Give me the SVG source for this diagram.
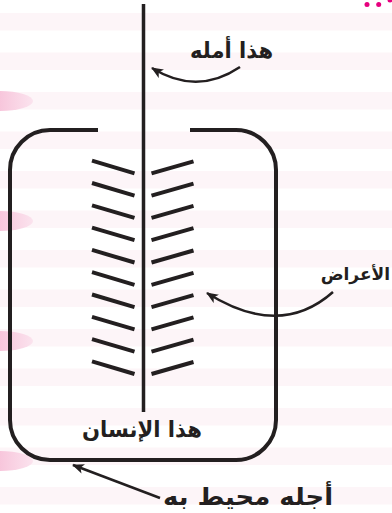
<svg xmlns="http://www.w3.org/2000/svg" width="392" height="513" viewBox="0 0 392 513">
<defs>
<style>
.stripe{fill:#fdf5f8}
.blob{fill:url(#pg)}
.dot{fill:#e6007e}
.frame{fill:none;stroke:#231f20;stroke-width:4}
.axis{fill:none;stroke:#231f20;stroke-width:3.5}
.hatch{stroke:#231f20;stroke-width:4;stroke-linecap:butt}
.conn{fill:none;stroke:#231f20;stroke-width:2.5}
.lbl{font-family:"DejaVu Sans","Noto Sans",sans-serif;font-weight:bold;fill:#231f20;text-anchor:middle}
</style>
<linearGradient id="pg" x1="0" y1="0" x2="1" y2="0">
<stop offset="0" stop-color="#f4a9c9"/>
<stop offset="1" stop-color="#fbe3ee"/>
</linearGradient>
<marker id="ah" viewBox="0 0 12 10" refX="11" refY="5" markerWidth="12" markerHeight="10" markerUnits="userSpaceOnUse" orient="auto">
<path d="M0,0 L12,5 L0,10 L3,5 Z" fill="#231f20"/>
</marker>
</defs>
<g id="background">
<rect x="0" y="0" width="392" height="513" fill="#ffffff"/>
<rect class="stripe" x="0" y="13" width="392" height="17.5"/>
<rect class="stripe" x="0" y="52.5" width="392" height="17.5"/>
<rect class="stripe" x="0" y="92" width="392" height="17.5"/>
<rect class="stripe" x="0" y="131.5" width="392" height="17.5"/>
<rect class="stripe" x="0" y="171" width="392" height="17.5"/>
<rect class="stripe" x="0" y="210.5" width="392" height="17.5"/>
<rect class="stripe" x="0" y="250" width="392" height="17.5"/>
<rect class="stripe" x="0" y="289.5" width="392" height="17.5"/>
<rect class="stripe" x="0" y="329" width="392" height="17.5"/>
<rect class="stripe" x="0" y="368.5" width="392" height="17.5"/>
<rect class="stripe" x="0" y="408" width="392" height="17.5"/>
<rect class="stripe" x="0" y="447.5" width="392" height="17.5"/>
<rect class="stripe" x="0" y="487" width="392" height="17.5"/>
<ellipse class="blob" cx="0" cy="101" rx="33" ry="10"/>
<ellipse class="blob" cx="0" cy="221" rx="33" ry="10"/>
<ellipse class="blob" cx="0" cy="341" rx="33" ry="10"/>
<ellipse class="blob" cx="0" cy="461" rx="33" ry="10"/>
<circle class="dot" cx="367" cy="4.5" r="2.5"/>
<circle class="dot" cx="378.7" cy="4.5" r="2.5"/>
<circle class="dot" cx="390" cy="0" r="2.5"/>
</g>
<g id="vessel">
<path class="frame" d="M98,130 H50 A40,40 0 0 0 10,170 V420 A40,40 0 0 0 50,460 H236 A40,40 0 0 0 276,420 V170 A40,40 0 0 0 236,130 H190"/>
</g>
<g id="axis">
<line class="axis" x1="143.5" y1="4" x2="143.5" y2="412"/>
</g>
<g id="hatches">
<g id="left-hatches">
<line class="hatch" x1="92" y1="160.7" x2="134.5" y2="173.3"/>
<line class="hatch" x1="92" y1="183" x2="134.5" y2="195.6"/>
<line class="hatch" x1="92" y1="205.3" x2="134.5" y2="217.9"/>
<line class="hatch" x1="92" y1="227.6" x2="134.5" y2="240.2"/>
<line class="hatch" x1="92" y1="249.9" x2="134.5" y2="262.5"/>
<line class="hatch" x1="92" y1="272.2" x2="134.5" y2="284.8"/>
<line class="hatch" x1="92" y1="294.5" x2="134.5" y2="307.1"/>
<line class="hatch" x1="92" y1="316.8" x2="134.5" y2="329.4"/>
<line class="hatch" x1="92" y1="339.1" x2="134.5" y2="351.7"/>
<line class="hatch" x1="92" y1="361.4" x2="134.5" y2="374"/>
</g>
<g id="right-hatches">
<line class="hatch" x1="151.5" y1="173.3" x2="193.5" y2="161.3"/>
<line class="hatch" x1="151.5" y1="195.6" x2="193.5" y2="183.6"/>
<line class="hatch" x1="151.5" y1="217.9" x2="193.5" y2="205.9"/>
<line class="hatch" x1="151.5" y1="240.2" x2="193.5" y2="228.2"/>
<line class="hatch" x1="151.5" y1="262.5" x2="193.5" y2="250.5"/>
<line class="hatch" x1="151.5" y1="284.8" x2="193.5" y2="272.8"/>
<line class="hatch" x1="151.5" y1="307.1" x2="193.5" y2="295.1"/>
<line class="hatch" x1="151.5" y1="329.4" x2="193.5" y2="317.4"/>
<line class="hatch" x1="151.5" y1="351.7" x2="193.5" y2="339.7"/>
<line class="hatch" x1="151.5" y1="374" x2="193.5" y2="362"/>
</g>
</g>
<g id="connectors">
<path class="conn" d="M240,67 Q197,96 152,68" marker-end="url(#ah)"/>
<path class="conn" d="M333,292 Q280,339 207,293" marker-end="url(#ah)"/>
<path class="conn" d="M160,498 L73,465" marker-end="url(#ah)"/>
</g>
<g id="label-hope">
<text class="lbl" x="231.5" y="58" font-size="22" textLength="83" lengthAdjust="spacingAndGlyphs">هذا أمله</text>
</g>
<g id="label-symptoms">
<text class="lbl" x="390" y="280" font-size="17" style="text-anchor:end">الأعراض</text>
</g>
<g id="label-human">
<text class="lbl" x="142" y="437" font-size="22" textLength="120" lengthAdjust="spacingAndGlyphs">هذا الإنسان</text>
</g>
<g id="label-death">
<text class="lbl" x="248" y="505" font-size="24" textLength="170" lengthAdjust="spacingAndGlyphs">أجله محيط به</text>
</g>
</svg>
